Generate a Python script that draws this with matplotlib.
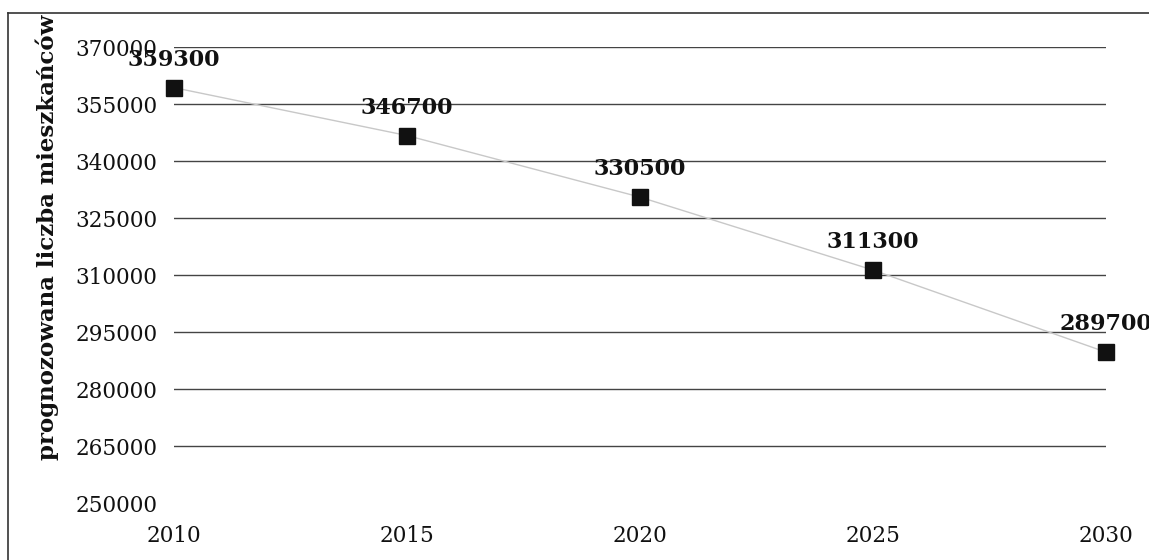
import matplotlib.pyplot as plt
from matplotlib.lines import Line2D

# dane: prognoza liczby mieszkańców
lata = [2010, 2015, 2020, 2025, 2030]
mieszkancy = [359300, 346700, 330500, 311300, 289700]
y_ticks = [250000, 265000, 280000, 295000, 310000, 325000, 340000, 355000, 370000]

plt.rcParams['font.family'] = ['DejaVu Serif']

fig = plt.figure(figsize=(11.49, 5.6), dpi=100)
ax = fig.add_axes([174 / 1149, 1 - 503 / 560, (1106 - 174) / 1149, (503 - 47) / 560])

ax.plot(lata, mieszkancy, color='#c8c8c8', lw=1, zorder=2, clip_on=False)
ax.plot(lata, mieszkancy, ls='none', marker='s', ms=11, color='#111111',
        zorder=3, clip_on=False)

for x, y in zip(lata, mieszkancy):
    ax.annotate(str(y), (x, y), xytext=(0, 20), textcoords='offset points',
                ha='center', va='center', fontsize=16, fontweight='bold',
                color='#111111', annotation_clip=False, zorder=4)

ax.set_xlim(2010, 2030)
ax.set_ylim(250000, 370000)
ax.set_xticks(lata)
ax.set_yticks(y_ticks)
ax.tick_params(length=0, labelsize=15.5, colors='#111111')
ax.tick_params(axis='x', pad=16)
ax.tick_params(axis='y', pad=12)
ax.grid(axis='y', color='#444444', lw=1)
ax.get_ygridlines()[0].set_visible(False)
for s in ax.spines.values():
    s.set_visible(False)

fig.text(47 / 1149, 1 - 237 / 560, 'prognozowana liczba mieszkańców', rotation=90,
         ha='center', va='center', fontsize=16.5, fontweight='bold', color='#111111')

# ramka wykresu (lewa i górna krawędź)
fig.add_artist(Line2D([8 / 1149, 8 / 1149], [0, 1 - 13 / 560], color='#333333', lw=1.2))
fig.add_artist(Line2D([8 / 1149, 1], [1 - 13 / 560, 1 - 13 / 560], color='#333333', lw=1.2))

fig.savefig('out.png', dpi=100)
